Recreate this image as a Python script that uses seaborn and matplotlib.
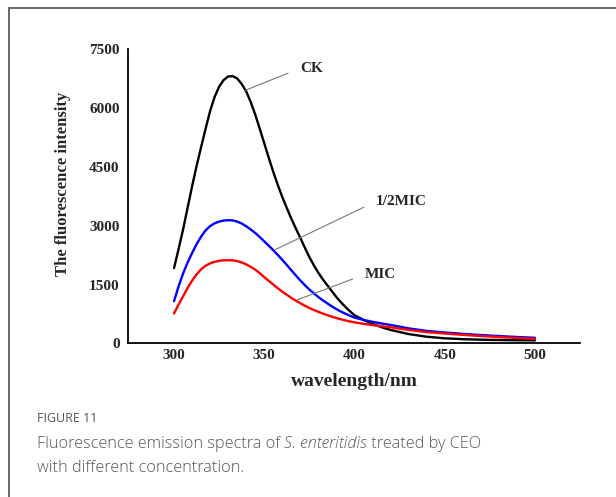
import matplotlib
matplotlib.use("Agg")
import matplotlib.pyplot as plt
from matplotlib.lines import Line2D
import seaborn as sns
import pandas as pd

# Emission wavelength (nm)
wavelength = [300, 302.5, 305, 307.5, 310, 312.5, 315, 317.5, 320, 322.5, 325, 327.5,
              330, 332.5, 335, 337.5, 340, 342.5, 345, 347.5, 350, 352.5, 355, 357.5,
              360, 362.5, 365, 367.5, 370, 372.5, 375, 377.5, 380, 382.5, 385, 387.5,
              390, 392.5, 395, 397.5, 400, 405, 410, 415, 420, 430, 440, 450, 460,
              470, 480, 490, 500]

# Fluorescence intensity for each treatment
ck = [1920, 2400, 2900, 3450, 4000, 4520, 5000, 5470, 5920, 6280, 6540, 6710,
      6800, 6810, 6750, 6610, 6420, 6150, 5830, 5470, 5100, 4730, 4370, 4040,
      3730, 3450, 3180, 2930, 2690, 2440, 2200, 1990, 1800, 1630, 1480, 1330,
      1180, 1050, 930, 820, 720, 600, 500, 415, 345, 240, 172, 132, 110,
      96, 88, 82, 78]
half_mic = [1076, 1450, 1780, 2060, 2300, 2530, 2720, 2880, 2990, 3060, 3105, 3130,
            3140, 3135, 3105, 3055, 2985, 2905, 2815, 2710, 2600, 2490, 2375, 2255,
            2130, 2000, 1865, 1733, 1605, 1485, 1375, 1275, 1183, 1098, 1020, 944,
            874, 812, 757, 708, 660, 600, 552, 510, 472, 385, 320, 280, 245,
            215, 190, 165, 145]
mic = [763, 990, 1200, 1410, 1600, 1760, 1890, 1980, 2040, 2080, 2105, 2118,
       2120, 2118, 2100, 2065, 2015, 1955, 1880, 1790, 1690, 1595, 1500, 1408,
       1320, 1240, 1162, 1090, 1025, 962, 905, 853, 806, 762, 721, 683,
       648, 616, 587, 561, 538, 500, 468, 440, 413, 345, 290, 254, 220,
       190, 165, 140, 120]

series_names = ["CK", "1/2MIC", "MIC"]
series_colors = ["#000000", "#0000ff", "#ff0000"]

y_ticks = [0, 1500, 3000, 4500, 6000, 7500]
x_ticks = [300, 350, 400, 450, 500]

df = pd.concat([
    pd.DataFrame({"wavelength": wavelength, "intensity": vals, "group": name})
    for name, vals in zip(series_names, [ck, half_mic, mic])
], ignore_index=True)

sns.set_theme(style="white")
plt.rcParams["font.family"] = ["Liberation Serif", "DejaVu Serif"]

fig = plt.figure(figsize=(6.16, 4.97), dpi=100)
ax = fig.add_axes([0.2078, 0.3089, 0.7338, 0.5925])

sns.lineplot(data=df, x="wavelength", y="intensity", hue="group",
             palette=dict(zip(series_names, series_colors)), hue_order=series_names,
             linewidth=1.7, legend=False, ax=ax, sort=True)
for line in ax.get_lines():
    line.set_solid_joinstyle("round")

ax.set_xlim(274.5, 525)
ax.set_ylim(0, 7500)
ax.set_xticks(x_ticks)
ax.set_yticks(y_ticks)
ax.set_xticklabels([str(t) for t in x_ticks], fontsize=11, fontweight="bold")
ax.set_yticklabels([str(t) for t in y_ticks], fontsize=11, fontweight="bold")
ax.tick_params(axis="x", direction="in", length=5, width=1.2, color="black", pad=4)
ax.tick_params(axis="y", direction="out", length=4, width=1.2, color="black", pad=2)
for side in ["top", "right"]:
    ax.spines[side].set_visible(False)
for side in ["left", "bottom"]:
    ax.spines[side].set_color("black")
    ax.spines[side].set_linewidth(1.3)
ax.set_facecolor("white")

ax.set_xlabel("wavelength/nm", fontsize=14, fontweight="bold")
ax.set_ylabel("The fluorescence intensity", fontsize=12, fontweight="bold")
ax.xaxis.set_label_coords(0.5, -0.10)
ax.yaxis.set_label_coords(-0.126, 0.5416)

# Leader lines pointing at each curve
leader = dict(arrowstyle="-", color="#777777", lw=0.8, relpos=(0, 0.5), shrinkA=7, shrinkB=0)
ax.annotate("CK", xy=(339.6, 6450), xytext=(370, 7010), fontsize=11, fontweight="bold",
            va="center", ha="left", arrowprops=leader)
ax.annotate("1/2MIC", xy=(356.1, 2390), xytext=(412, 3620), fontsize=11, fontweight="bold",
            va="center", ha="left", arrowprops=leader)
ax.annotate("MIC", xy=(368.2, 1110), xytext=(405.9, 1760), fontsize=11, fontweight="bold",
            va="center", ha="left", arrowprops=leader)

# Page frame
fig.add_artist(Line2D([0.0138, 1.0], [0.983, 0.983], color="#5a5a5a", lw=1.3,
                      transform=fig.transFigure))
fig.add_artist(Line2D([0.0138, 0.0138], [0.0, 0.983], color="#5a5a5a", lw=1.3,
                      transform=fig.transFigure))

# Caption
cap_font = ["Open Sans", "DejaVu Sans"]
fig.text(37 / 616, 1 - 419 / 497, "FIGURE 11", family=cap_font, fontsize=9,
         color="#555555", va="center", ha="left")

renderer = fig.canvas.get_renderer()
x_px = 37
parts = [("Fluorescence emission spectra of ", "normal"),
         ("S. enteritidis", "italic"),
         (" treated by CEO", "normal")]
for txt, style in parts:
    t = fig.text(x_px / 616, 1 - 444 / 497, txt, family=cap_font, fontsize=11.7,
                 style=style, weight="light", color="#555555", va="center", ha="left")
    x_px += t.get_window_extent(renderer).width
fig.text(37 / 616, 1 - 468 / 497, "with different concentration.", family=cap_font,
         fontsize=11.7, weight="light", color="#555555", va="center", ha="left")

fig.savefig("out.png", dpi=100, facecolor="white")
